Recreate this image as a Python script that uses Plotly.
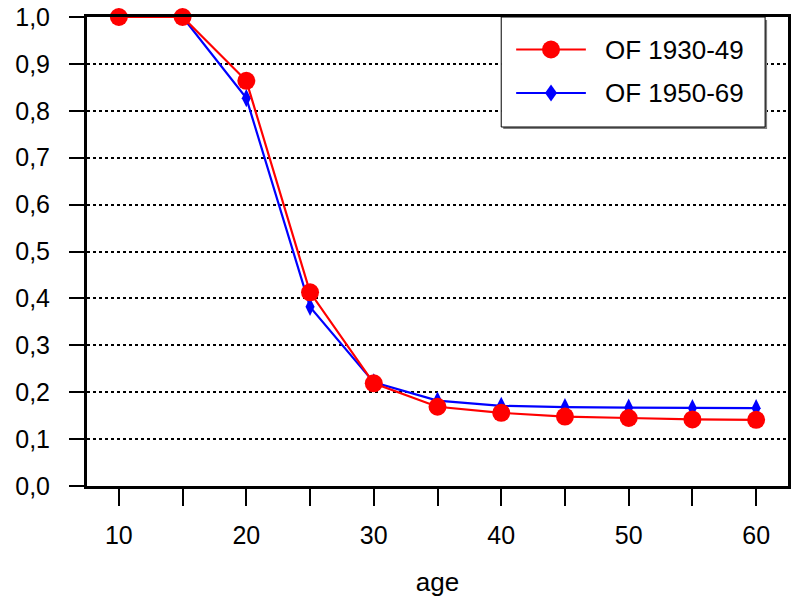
import plotly.graph_objects as go

ages = [10, 15, 20, 25, 30, 35, 40, 45, 50, 55, 60]
of_1930_49 = [1.0, 1.0, 0.864, 0.413, 0.219, 0.169, 0.156, 0.148, 0.145, 0.142, 0.141]
of_1950_69 = [1.0, 1.0, 0.827, 0.382, 0.221, 0.182, 0.171, 0.168, 0.167, 0.166, 0.166]
series_names = ["OF 1930-49", "OF 1950-69"]
series_colors = ["#ff0000", "#0000ff"]
y_ticks = [0.0, 0.1, 0.2, 0.3, 0.4, 0.5, 0.6, 0.7, 0.8, 0.9, 1.0]
x_labels = [10, 20, 30, 40, 50, 60]

FONT = "Liberation Sans"

# plot area in pixels (for the hand-drawn legend box)
PL, PR, PT, PB = 87, 791, 17, 486


def px_x(x):
    return (x - PL) / (PR - PL)


def px_y(y):
    return (PB - y) / (PB - PT)


fig = go.Figure()
fig.add_trace(go.Scatter(
    x=ages, y=of_1950_69, name=series_names[1], mode="lines+markers",
    line=dict(color=series_colors[1], width=2.2),
    marker=dict(symbol="diamond-tall", size=13, color=series_colors[1]),
    cliponaxis=False, showlegend=False,
))
fig.add_trace(go.Scatter(
    x=ages, y=of_1930_49, name=series_names[0], mode="lines+markers",
    line=dict(color=series_colors[0], width=2.2),
    marker=dict(symbol="circle", size=18, color=series_colors[0]),
    cliponaxis=False, showlegend=False,
))

# legend (drawn with shapes so its proportions match the original)
shapes = []
annotations = []
shapes.append(dict(type="rect", xref="paper", yref="paper",
                   x0=px_x(505), x1=px_x(770), y0=px_y(129), y1=px_y(20),
                   line=dict(width=0), fillcolor="#808080", layer="above"))
shapes.append(dict(type="rect", xref="paper", yref="paper",
                   x0=px_x(503), x1=px_x(768), y0=px_y(127), y1=px_y(17),
                   line=dict(width=1, color="black"), fillcolor="white", layer="above"))
rows_y = [49.5, 93]
for i in range(2):
    yy = px_y(rows_y[i])
    shapes.append(dict(type="line", xref="paper", yref="paper",
                       x0=px_x(518), x1=px_x(588), y0=yy, y1=yy,
                       line=dict(color=series_colors[i], width=2.2), layer="above"))
    if i == 0:
        shapes.append(dict(type="circle", xref="paper", yref="paper",
                           xsizemode="pixel", ysizemode="pixel",
                           xanchor=px_x(553), yanchor=yy,
                           x0=-9, x1=9, y0=-9, y1=9,
                           fillcolor=series_colors[i], line=dict(width=0), layer="above"))
    else:
        shapes.append(dict(type="path", xref="paper", yref="paper",
                           xsizemode="pixel", ysizemode="pixel",
                           xanchor=px_x(553), yanchor=yy,
                           path="M -6,0 L 0,8.5 L 6,0 L 0,-8.5 Z",
                           fillcolor=series_colors[i], line=dict(width=0), layer="above"))
    annotations.append(dict(xref="paper", yref="paper", x=px_x(605), y=yy,
                            xanchor="left", yanchor="middle", showarrow=False,
                            text=series_names[i],
                            font=dict(family=FONT, size=26, color="black")))

fig.update_layout(
    width=794, height=601,
    margin=dict(l=PL, r=794 - PR, t=PT, b=601 - PB),
    paper_bgcolor="white", plot_bgcolor="white",
    font=dict(family=FONT, size=25, color="black"),
    separators=", ",
    showlegend=False,
    hovermode=False,
    shapes=shapes,
    annotations=annotations,
    xaxis=dict(
        range=[7.5, 62.5],
        tickmode="array", tickvals=x_labels, ticktext=[str(v) for v in x_labels],
        ticks="outside", ticklen=17, tickwidth=2, tickcolor="black",
        ticklabelstandoff=8,
        tickfont=dict(family=FONT, size=25),
        minor=dict(dtick=5, tick0=10, ticks="outside", ticklen=17, tickwidth=2, tickcolor="black"),
        showline=True, linewidth=3, linecolor="black", mirror=True,
        showgrid=False, zeroline=False,
        title=dict(text="age", standoff=25, font=dict(family=FONT, size=26)),
    ),
    yaxis=dict(
        range=[0, 1.0],
        tickmode="array", tickvals=y_ticks, tickformat=".1f",
        ticks="outside", ticklen=15, tickwidth=2, tickcolor="black",
        ticklabelstandoff=14,
        tickfont=dict(family=FONT, size=25),
        showline=True, linewidth=3, linecolor="black", mirror=True,
        showgrid=True, gridcolor="black", gridwidth=2, griddash="dot",
        zeroline=False,
    ),
)

fig.write_html("out.html", config={"displayModeBar": False, "staticPlot": True},
               post_script="document.body.style.margin='0px';")
